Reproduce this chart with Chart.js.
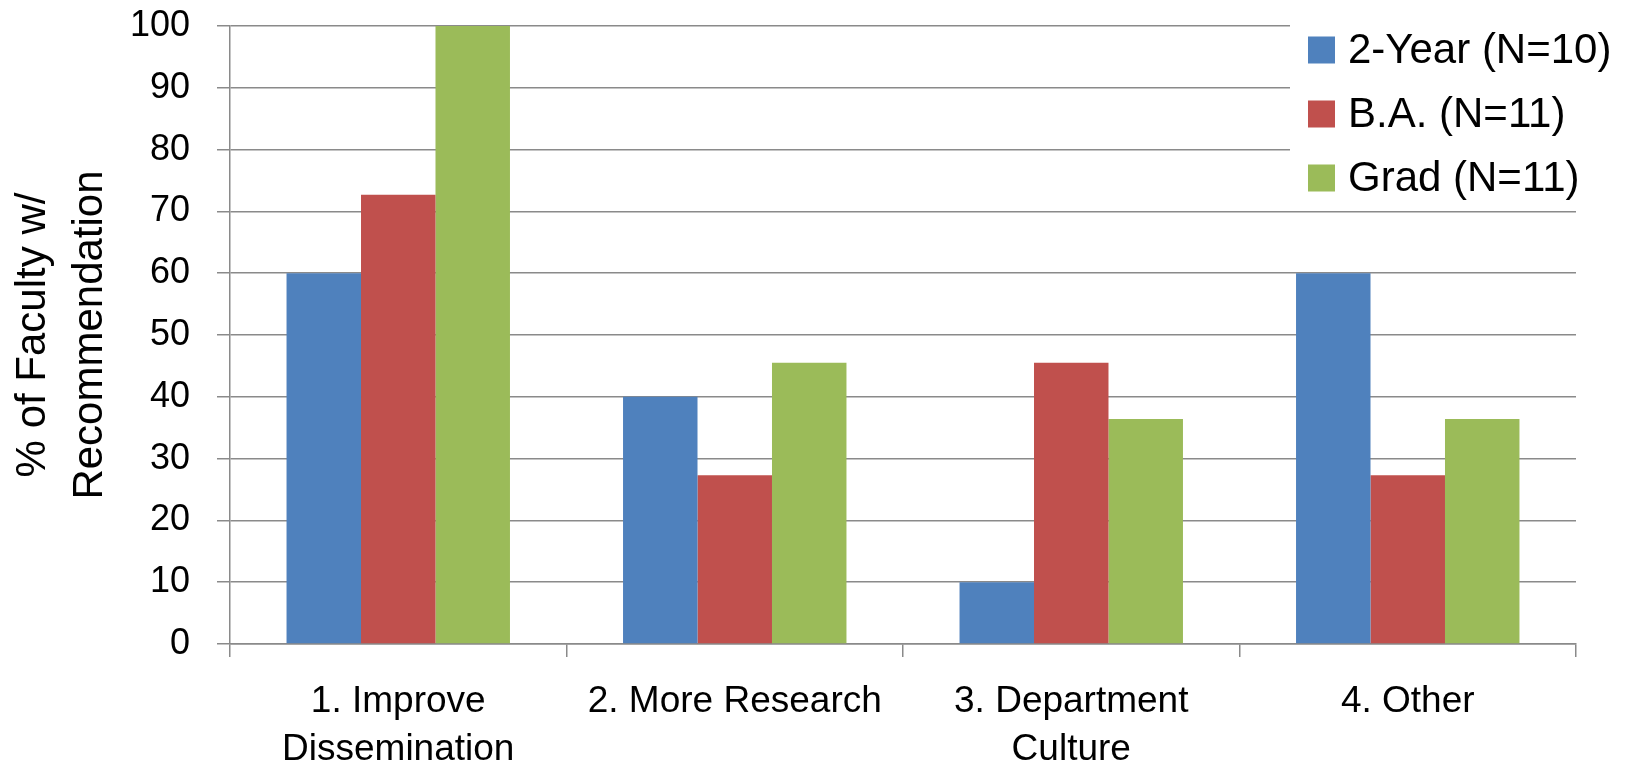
<!DOCTYPE html>
<html>
<head>
<meta charset="utf-8">
<title>Faculty Recommendations</title>
<script src="https://cdn.jsdelivr.net/npm/chart.js@4.4.1/dist/chart.umd.min.js"></script>
<style>
  html, body { margin: 0; padding: 0; background: #ffffff; }
  #wrap { width: 1625px; height: 770px; }
</style>
</head>
<body>
<div id="wrap"><canvas id="chart" width="1625" height="770"></canvas></div>
<script>
// Recommendation categories (x axis)
const categories = [
  ['1. Improve', 'Dissemination'],
  '2. More Research',
  ['3. Department', 'Culture'],
  '4. Other'
];

// Percent of faculty in each institution type giving the recommendation
const twoYear = [60, 40, 10, 60];
const bachelors = [72.7, 27.3, 45.5, 27.3];
const graduate = [100, 45.5, 36.4, 36.4];

const seriesNames = ['2-Year (N=10)', 'B.A. (N=11)', 'Grad (N=11)'];
const seriesColors = ['#4F81BD', '#C0504D', '#9BBB59'];

const yTicks = [0, 10, 20, 30, 40, 50, 60, 70, 80, 90, 100];

const FONT = '"Liberation Sans", Arial, sans-serif';
const GRID = '#8a8a8a';

// Legend drawn inside the plot's upper-right corner on a white panel
const cornerLegend = {
  id: 'cornerLegend',
  afterDraw(chart) {
    const ctx = chart.ctx;
    const area = chart.chartArea;
    ctx.save();
    ctx.fillStyle = '#ffffff';
    ctx.fillRect(1290, area.top - 6, chart.width - 1290, 186);
    ctx.font = '42px ' + FONT;
    ctx.textBaseline = 'middle';
    ctx.textAlign = 'left';
    chart.data.datasets.forEach((ds, i) => {
      const cy = 50 + i * 64;
      ctx.fillStyle = ds.backgroundColor;
      ctx.fillRect(1308, cy - 13.5, 27, 27);
      ctx.fillStyle = '#000000';
      ctx.fillText(ds.label, 1348, cy + 1);
    });
    ctx.restore();
  }
};

const datasets = [twoYear, bachelors, graduate].map((vals, i) => ({
  label: seriesNames[i],
  data: vals,
  backgroundColor: seriesColors[i],
  borderWidth: 0,
  categoryPercentage: 0.664,
  barPercentage: 1.0
}));

new Chart(document.getElementById('chart'), {
  type: 'bar',
  data: { labels: categories, datasets: datasets },
  plugins: [cornerLegend],
  options: {
    responsive: false,
    animation: false,
    devicePixelRatio: 1,
    layout: { padding: { top: 26, right: 49, left: 0, bottom: 0 } },
    plugins: {
      legend: { display: false },
      tooltip: { enabled: false }
    },
    scales: {
      x: {
        offset: true,
        grid: {
          offset: true,
          drawOnChartArea: false,
          drawTicks: true,
          tickLength: 13,
          color: GRID,
          lineWidth: 1.5
        },
        border: { display: true, color: GRID, width: 1.5 },
        ticks: {
          color: '#000000',
          font: { family: FONT, size: 37, lineHeight: 1.32 },
          padding: 20,
          maxRotation: 0,
          autoSkip: false
        },
        afterFit(scale) { scale.height = 126; }
      },
      y: {
        min: 0,
        max: 100,
        afterBuildTicks(scale) { scale.ticks = yTicks.map(v => ({ value: v })); },
        grid: {
          color: GRID,
          lineWidth: 1.5,
          drawTicks: true,
          tickLength: 13
        },
        border: { display: true, color: GRID, width: 1.5 },
        ticks: {
          color: '#000000',
          font: { family: FONT, size: 36 },
          padding: 27
        },
        title: {
          display: true,
          text: ['% of Faculty w/', 'Recommendation'],
          color: '#000000',
          font: { family: FONT, size: 42, lineHeight: 1.36 },
          padding: { top: 5, bottom: 0 }
        },
        afterFit(scale) {
          scale.width = 230;
          // top label overhang fits inside the layout padding
          scale.paddingTop = 0;
        }
      }
    }
  }
});
</script>
</body>
</html>
